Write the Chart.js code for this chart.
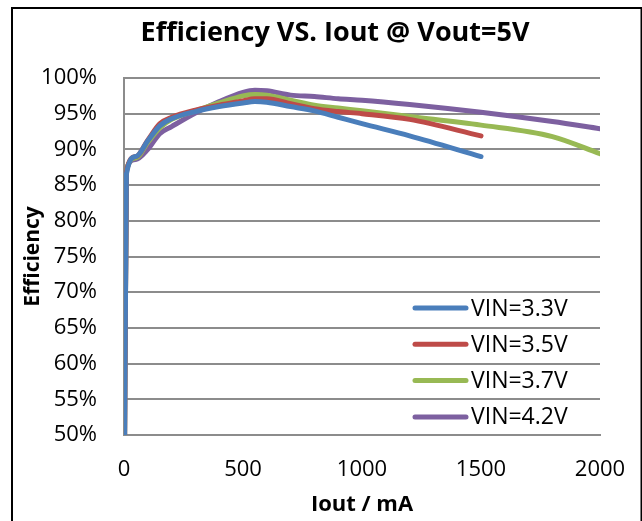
<!DOCTYPE html>
<html>
<head>
<meta charset="utf-8">
<script src="https://cdn.jsdelivr.net/npm/chart.js@4.4.1/dist/chart.umd.min.js"></script>
<style>
  html, body { margin: 0; padding: 0; background: #fff; }
  #wrap { width: 642px; height: 521px; }
</style>
</head>
<body>
<div id="wrap"><canvas id="effChart" width="642" height="521"></canvas></div>
<script>
// Iout in mA, efficiency in %
const seriesNames = ['VIN=3.3V', 'VIN=3.5V', 'VIN=3.7V', 'VIN=4.2V'];
const seriesColors = ['#4A7EBB', '#BE4B48', '#98B954', '#7D60A0'];

const ioutShort = [1, 10, 50, 100, 150, 200, 300, 400, 500, 550, 600, 700, 800, 900, 1000, 1200, 1500];
const ioutLong = [1, 10, 50, 100, 150, 200, 300, 400, 500, 550, 600, 700, 800, 900, 1000, 1200, 1500, 1800, 2000];

const eff33 = [40, 86.5, 89.0, 91.2, 93.3, 94.3, 95.3, 96.0, 96.5, 96.7, 96.6, 96.0, 95.4, 94.5, 93.6, 91.9, 89.0];
const eff35 = [40, 86.8, 89.0, 91.3, 93.6, 94.5, 95.5, 96.2, 96.8, 97.1, 97.1, 96.4, 95.7, 95.3, 95.0, 94.2, 91.9];
const eff37 = [40, 87.0, 88.8, 91.0, 93.0, 94.2, 95.4, 96.5, 97.5, 97.7, 97.6, 96.9, 96.2, 95.8, 95.4, 94.6, 93.4, 91.8, 89.4];
const eff42 = [40, 87.2, 88.6, 90.0, 92.2, 93.2, 95.1, 96.7, 98.0, 98.3, 98.2, 97.6, 97.4, 97.1, 96.9, 96.3, 95.2, 93.9, 92.9];

const yMin = 50, yMax = 100, yStep = 5;
const xMin = 0, xMax = 2000, xStep = 500;

const titleText = 'Efficiency VS. Iout @ Vout=5V';
const xTitle = 'Iout / mA';
const yTitle = 'Efficiency';

function toPoints(xs, ys) {
    return ys.map(function (v, i) { return { x: xs[i], y: v }; });
}

const seriesData = [
    toPoints(ioutShort, eff33),
    toPoints(ioutShort, eff35),
    toPoints(ioutLong, eff37),
    toPoints(ioutLong, eff42)
];

const FONT = '"Open Sans", "Noto Sans", sans-serif';

// frame + title + legend, drawn by hand to sit where Excel put them
const decorPlugin = {
    id: 'decor',
    beforeDraw(chart) {
        const ctx = chart.ctx;
        ctx.save();
        ctx.fillStyle = '#fff';
        ctx.fillRect(0, 0, chart.width, chart.height);
        ctx.restore();
    },
    afterDraw(chart) {
        const ctx = chart.ctx;
        ctx.save();
        ctx.strokeStyle = '#000';
        ctx.lineWidth = 2;
        ctx.strokeRect(12, 8, 629.5, 530);

        ctx.fillStyle = '#000';
        ctx.font = 'bold 27px ' + FONT;
        ctx.textAlign = 'center';
        ctx.textBaseline = 'middle';
        ctx.fillText(titleText, 335, 33);

        ctx.font = '23px ' + FONT;
        ctx.textAlign = 'left';
        chart.data.datasets.forEach(function (ds, i) {
            const y = 308 + i * 36.3;
            ctx.strokeStyle = ds.borderColor;
            ctx.lineWidth = 5;
            ctx.lineCap = 'round';
            ctx.beginPath();
            ctx.moveTo(415, y);
            ctx.lineTo(466, y);
            ctx.stroke();
            ctx.fillText(ds.label, 471, y + 1);
        });
        ctx.restore();
    }
};

const ctxEff = document.getElementById('effChart').getContext('2d');
const effChart = new Chart(ctxEff, {
    type: 'line',
    data: {
        datasets: seriesNames.map(function (name, i) {
            return {
                label: name,
                data: seriesData[i],
                borderColor: seriesColors[i],
                backgroundColor: seriesColors[i],
                borderWidth: 5,
                borderCapStyle: 'round',
                borderJoinStyle: 'round',
                pointRadius: 0,
                cubicInterpolationMode: 'monotone',
                fill: false
            };
        })
    },
    options: {
        responsive: false,
        animation: false,
        layout: {
            padding: { top: 78, left: 12, right: 42, bottom: 0 }
        },
        plugins: {
            legend: { display: false },
            title: { display: false },
            tooltip: { enabled: false }
        },
        scales: {
            x: {
                type: 'linear',
                min: xMin,
                max: xMax,
                grid: { display: false, drawTicks: false },
                border: { display: true, color: '#8c8c8c', width: 2 },
                ticks: {
                    stepSize: xStep,
                    padding: 22,
                    color: '#000',
                    font: { family: FONT, size: 22 },
                    callback: function (v) { return String(v); }
                },
                title: {
                    display: true,
                    text: xTitle,
                    color: '#000',
                    font: { family: FONT, size: 22, weight: 'bold' },
                    padding: { top: 0, bottom: 3 }
                },
                afterFit(scale) {
                    scale.height = 86;
                    scale.paddingLeft = 0;
                    scale.paddingRight = 0;
                }
            },
            y: {
                min: yMin,
                max: yMax,
                grid: { color: '#8c8c8c', lineWidth: 2, drawTicks: false },
                border: { display: true, color: '#8c8c8c', width: 2 },
                ticks: {
                    stepSize: yStep,
                    padding: 27,
                    color: '#000',
                    font: { family: FONT, size: 22 },
                    callback: function (v) { return v + '%'; }
                },
                title: {
                    display: true,
                    text: yTitle,
                    color: '#000',
                    font: { family: FONT, size: 21, weight: 'bold' },
                    padding: { top: 8, bottom: 0 }
                },
                afterFit(scale) { scale.width = 112; }
            }
        }
    },
    plugins: [decorPlugin]
});
</script>
</body>
</html>
